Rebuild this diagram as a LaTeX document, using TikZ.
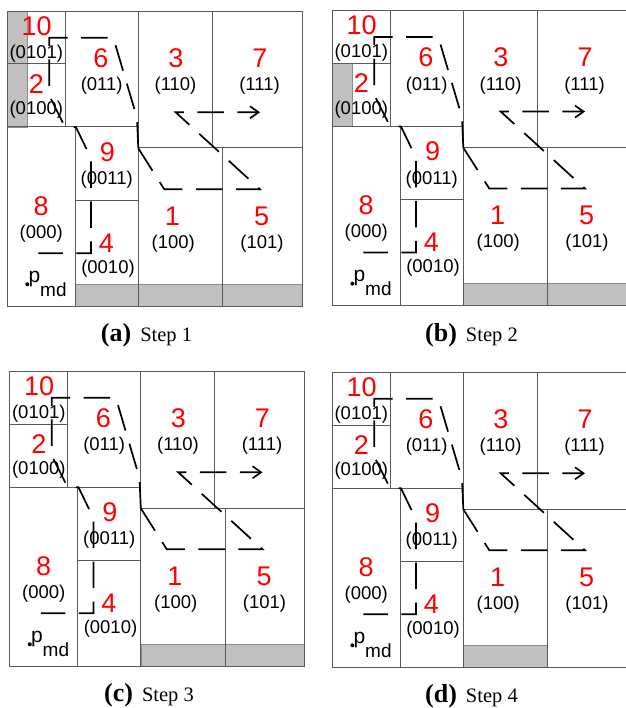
\documentclass[tikz,border=0pt]{standalone}
\usepackage{fontspec}
\setmainfont{Liberation Serif}
\newfontfamily\arialfont{Liberation Sans}
\usetikzlibrary{arrows.meta}
\definecolor{cellgray}{RGB}{192,192,192}
\definecolor{borderline}{RGB}{90,90,90}
\tikzset{
  cellline/.style={draw=borderline, line width=1pt},
  shade cell/.style={fill=cellgray, draw=black!45, line width=0.6pt},
  numlbl/.style={text=red, font=\arialfont\fontsize{27}{27}\selectfont, inner sep=0pt},
  codelbl/.style={font=\arialfont\fontsize{18.5}{18.5}\selectfont, inner sep=0pt},
  zpath/.style={line width=1.7pt, dash pattern=on 26.5pt off 13.5pt},
  zarrow/.style={zpath, -{Straight Barb[length=8.5pt,width=12pt]}},
  capt/.style={anchor=base, inner sep=0pt}
}
\begin{document}
\begin{tikzpicture}[x=1pt,y=-1pt]
    \useasboundingbox (0,0) rectangle (625,708);

    % grey cells of each step
    \begin{scope}[shift={(7,11.7)}]
        \fill[shade cell] (0,0) rectangle (20.7,115.3);
        \fill[shade cell] (68.3,272.6) rectangle (295,294.3);
    \end{scope}
    \begin{scope}[shift={(332,11)}]
        \fill[shade cell] (0,52.3) rectangle (20.7,115.3);
        \fill[shade cell] (131.3,272.6) rectangle (295,294.3);
    \end{scope}
    \begin{scope}[shift={(9.5,371.7)}]
        \fill[shade cell] (131.3,272.6) rectangle (295,294.3);
    \end{scope}
    \begin{scope}[shift={(332,372.7)}]
        \fill[shade cell] (131.3,272.6) rectangle (215.7,294.3);
    \end{scope}

    \foreach \px/\py/\lab/\stepno in {7/11.7/a/1, 332/11/b/2, 9.5/371.7/c/3, 332/372.7/d/4} {
    \begin{scope}[shift={(\px,\py)}]
        % cells
        \draw[cellline] (0,0) rectangle (295,294.3);
        \draw[cellline] (58,0) -- (58,115.3);
        \draw[cellline] (0,52.3) -- (58,52.3);
        \draw[cellline] (0,115.3) -- (131.3,115.3);
        \draw[cellline] (68.3,115.3) -- (68.3,294.3);
        \draw[cellline] (68.3,188.6) -- (131.3,188.6);
        \draw[cellline] (131.3,0) -- (131.3,294.3);
        \draw[cellline] (131.3,136.3) -- (295,136.3);
        \draw[cellline] (205.3,0) -- (205.3,136.3);
        \draw[cellline] (215.7,136.3) -- (215.7,294.3);

        % numbers and codes
        \node[numlbl] (n10-\lab) at (29.7,14.3) {10};
        \node[codelbl] (c10-\lab) at (29.3,41.6) {(0101)};
        \node[numlbl] (n2-\lab) at (29.3,72) {2};
        \node[codelbl] (c2-\lab) at (29.3,98.3) {(0100)};
        \node[numlbl] (n6-\lab) at (93.8,46.2) {6};
        \node[codelbl] (c6-\lab) at (94.7,74.3) {(011)};
        \node[numlbl] (n3-\lab) at (168.8,46.2) {3};
        \node[codelbl] (c3-\lab) at (168.5,74.3) {(110)};
        \node[numlbl] (n7-\lab) at (253,46.2) {7};
        \node[codelbl] (c7-\lab) at (252.5,74.3) {(111)};
        \node[numlbl] (n9-\lab) at (100.5,140.4) {9};
        \node[codelbl] (c9-\lab) at (99.7,168.3) {(0011)};
        \node[numlbl] (n8-\lab) at (34.2,194.5) {8};
        \node[codelbl] (c8-\lab) at (34.3,221.6) {(000)};
        \node[numlbl] (n4-\lab) at (99.3,231.2) {4};
        \node[codelbl] (c4-\lab) at (101,256.6) {(0010)};
        \node[numlbl] (n1-\lab) at (165.5,204.5) {1};
        \node[codelbl] (c1-\lab) at (166.3,231.6) {(100)};
        \node[numlbl] (n5-\lab) at (254.7,204.5) {5};
        \node[codelbl] (c5-\lab) at (255,231.6) {(101)};
        \node[circle, fill, inner sep=0pt, minimum size=4pt] (dot-\lab) at (20.3,272.6) {};
        \node[anchor=base west, inner sep=0pt, font=\arialfont\fontsize{21}{21}\selectfont] (pmd-\lab) at (21.3,270.9)
            {p\raisebox{-14pt}{\fontsize{19}{19}\selectfont md}};

        % z-order curve
        \coordinate (p8) at (31.3,241.6);
        \coordinate (p4) at (84,241.6);
        \coordinate (p9) at (84,146.6);
        \coordinate (p9x) at (69,115.6);
        \coordinate (p2x) at (58,115.3);
        \coordinate (p2) at (42.3,84);
        \coordinate (p10) at (42.3,26);
        \coordinate (p6) at (106.3,26);
        \coordinate (p6x) at (130,106.3);
        \coordinate (p1x) at (131.3,136.6);
        \coordinate (p1) at (157.3,177.6);
        \coordinate (p5) at (253,177.6);
        \coordinate (p3) at (168.7,100.6);
        \coordinate (p7) at (253,100.6);
        \draw[zpath, dash phase=2pt] (p8) -- (p4) -- (p9) -- (p9x) -- (p2x) -- (p2) -- (p10) -- (p6)
            -- (p6x) -- (p1x);
        \draw[zarrow] (p1x) -- (p1) -- (p5) -- (p3) -- (p7);

        % caption
        \node[capt] (cap-\lab) at (139.5,330)
            {{\fontsize{26}{26}\selectfont\bfseries (\lab)}\hspace{9pt}{\fontsize{20.5}{20.5}\selectfont Step \stepno}};
    \end{scope}
    }
\end{tikzpicture}
\end{document}
